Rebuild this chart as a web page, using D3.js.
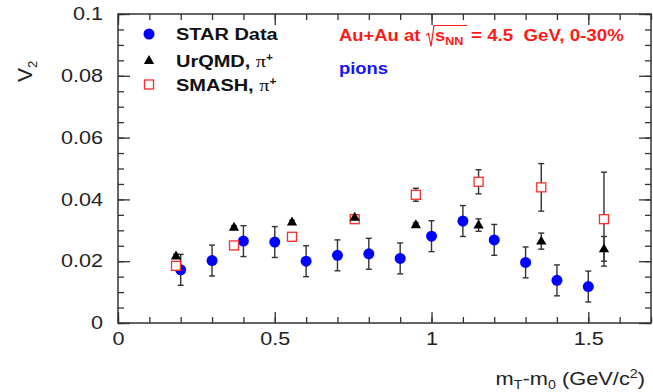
<!DOCTYPE html>
<html>
<head>
<meta charset="utf-8">
<script src="https://cdn.jsdelivr.net/npm/d3@7"></script>
<style>
  body { margin: 0; background: #fff; }
  svg { display: block; font-family: "Liberation Sans", Arial, Helvetica, sans-serif; }
</style>
</head>
<body>
<div id="chart"></div>
<script>
// STAR measured points (pions)
const starX = [0.2, 0.3, 0.4, 0.5, 0.6, 0.7, 0.8, 0.9, 1.0, 1.1, 1.2, 1.3, 1.4, 1.5];
const starY = [0.0172, 0.0202, 0.0265, 0.0262, 0.0200, 0.0219, 0.0224, 0.0209, 0.0281, 0.0330, 0.0269, 0.0196, 0.0138, 0.0118];
const starErr = [0.005, 0.005, 0.005, 0.005, 0.005, 0.005, 0.005, 0.005, 0.005, 0.005, 0.005, 0.005, 0.005, 0.005];

// model curves, same x for both
const modelX = [0.185, 0.37, 0.555, 0.755, 0.95, 1.15, 1.35, 1.55];
const urqmdY = [0.0217, 0.0310, 0.0327, 0.0342, 0.0318, 0.0317, 0.0265, 0.0240];
const urqmdErr = [0.0005, 0.0005, 0.0005, 0.0005, 0.0006, 0.0020, 0.0026, 0.0040];
const smashY = [0.0185, 0.0251, 0.0279, 0.0336, 0.0415, 0.0457, 0.0439, 0.0336];
const smashErr = [0.0008, 0.0006, 0.0006, 0.0008, 0.0021, 0.0039, 0.0077, 0.0152];

const xMajor = [0, 0.5, 1, 1.5];
const yMajor = [0, 0.02, 0.04, 0.06, 0.08, 0.1];

const W = 653, H = 392;
const margin = {top: 14, right: 2, bottom: 69, left: 118};

const svg = d3.select('#chart').append('svg')
  .attr('width', W).attr('height', H);

const x = d3.scaleLinear().domain([0, 1.7]).range([margin.left, W - margin.right]);
const y = d3.scaleLinear().domain([0, 0.1]).range([H - margin.bottom, margin.top]);

const axisCol = '#333';
const xMinor = d3.range(0, 1.701, 0.1);
const yMinor = d3.range(0, 0.1001, 0.005);

// stretch text a bit wider, the source image is horizontally stretched
function stretch(sel, k) {
  sel.each(function() {
    const L = this.getComputedTextLength();
    this.setAttribute('textLength', L * k);
    this.setAttribute('lengthAdjust', 'spacingAndGlyphs');
  });
}

function styleAxis(g) {
  g.select('.domain').remove();
  g.selectAll('line').attr('stroke', axisCol).attr('stroke-width', 1.3);
}

// bottom axis
svg.append('g').attr('transform', `translate(0,${y(0)})`)
  .call(d3.axisBottom(x).tickValues(xMinor).tickSize(-6).tickFormat(''))
  .call(styleAxis);
const gx = svg.append('g').attr('transform', `translate(0,${y(0)})`)
  .call(d3.axisBottom(x).tickValues(xMajor).tickSize(-11).tickPadding(9).tickFormat(d3.format('')))
  .call(styleAxis);
gx.selectAll('text').attr('font-size', 18).attr('fill', '#222');

// top axis (mirror)
svg.append('g').attr('transform', `translate(0,${y(0.1)})`)
  .call(d3.axisTop(x).tickValues(xMinor).tickSize(-6).tickFormat(''))
  .call(styleAxis);
svg.append('g').attr('transform', `translate(0,${y(0.1)})`)
  .call(d3.axisTop(x).tickValues(xMajor).tickSize(-11).tickFormat(''))
  .call(styleAxis);

// left axis
svg.append('g').attr('transform', `translate(${x(0)},0)`)
  .call(d3.axisLeft(y).tickValues(yMinor).tickSize(-6).tickFormat(''))
  .call(styleAxis);
const gy = svg.append('g').attr('transform', `translate(${x(0)},0)`)
  .call(d3.axisLeft(y).tickValues(yMajor).tickSize(-12).tickPadding(15).tickFormat(d3.format('')))
  .call(styleAxis);
gy.selectAll('text').attr('font-size', 18).attr('fill', '#222');

// right axis (mirror)
svg.append('g').attr('transform', `translate(${x(1.7)},0)`)
  .call(d3.axisRight(y).tickValues(yMinor).tickSize(-6).tickFormat(''))
  .call(styleAxis);
svg.append('g').attr('transform', `translate(${x(1.7)},0)`)
  .call(d3.axisRight(y).tickValues(yMajor).tickSize(-12).tickFormat(''))
  .call(styleAxis);

// frame
svg.append('rect')
  .attr('x', x(0)).attr('y', y(0.1))
  .attr('width', x(1.7) - x(0)).attr('height', y(0) - y(0.1))
  .attr('fill', 'none').attr('stroke', axisCol).attr('stroke-width', 1.5);

stretch(gx.selectAll('text'), 1.2);
stretch(gy.selectAll('text'), 1.2);

// error bars
function errorBars(xs, ys, es) {
  const g = svg.append('g').attr('stroke', '#333').attr('stroke-width', 1.4);
  xs.forEach((xv, i) => {
    const lo = y(ys[i] - es[i]), hi = y(ys[i] + es[i]), cx = x(xv);
    g.append('line').attr('x1', cx).attr('x2', cx).attr('y1', lo).attr('y2', hi);
    g.append('line').attr('x1', cx - 3).attr('x2', cx + 3).attr('y1', lo).attr('y2', lo);
    g.append('line').attr('x1', cx - 3).attr('x2', cx + 3).attr('y1', hi).attr('y2', hi);
  });
}

errorBars(starX, starY, starErr);
errorBars(modelX, smashY, smashErr);
errorBars(modelX, urqmdY, urqmdErr);

const tri = d3.symbol(d3.symbolTriangle, 46);

// STAR
svg.append('g').selectAll('circle').data(starX).join('circle')
  .attr('cx', d => x(d)).attr('cy', (d, i) => y(starY[i]))
  .attr('r', 5.5).attr('fill', '#0000ff');

// SMASH
svg.append('g').selectAll('rect').data(modelX).join('rect')
  .attr('x', d => x(d) - 4.5).attr('y', (d, i) => y(smashY[i]) - 4.5)
  .attr('width', 9).attr('height', 9)
  .attr('fill', '#fff').attr('stroke', '#ff2a2a').attr('stroke-width', 1.3);

// UrQMD
svg.append('g').selectAll('path').data(modelX).join('path')
  .attr('d', tri)
  .attr('transform', (d, i) => `translate(${x(d)},${y(urqmdY[i]) + 0.5})`)
  .attr('fill', '#000');

// legend
const leg = svg.append('g');
leg.append('circle').attr('cx', 149).attr('cy', 34).attr('r', 5.5).attr('fill', '#0000ff');
leg.append('path').attr('d', tri).attr('transform', 'translate(149,61)').attr('fill', '#000');
leg.append('rect').attr('x', 144.5).attr('y', 80).attr('width', 9).attr('height', 9)
  .attr('fill', '#fff').attr('stroke', '#ff2a2a').attr('stroke-width', 1.3);

const legLabels = ['STAR Data', 'UrQMD, ', 'SMASH, '];
const legY = [40, 67, 91];
legLabels.forEach((lab, i) => {
  const t = leg.append('text').attr('x', 176).attr('y', legY[i])
    .attr('font-size', 16.8).attr('font-weight', 'bold').attr('fill', '#111');
  t.append('tspan').text(lab);
  if (i > 0) {
    t.append('tspan').attr('font-weight', 'normal').attr('font-family', '"Liberation Serif", serif').attr('font-size', 17).text('π');
    t.append('tspan').attr('font-size', 10).attr('dy', -6).text('+');
  }
  stretch(t, 1.19);
});

// annotation
const red = '#ff1a1a';
const a1 = svg.append('text').attr('x', 339).attr('y', 41)
  .attr('font-size', 16).attr('font-weight', 'bold').attr('fill', red).text('Au+Au at');
stretch(a1, 1.15);
svg.append('path')
  .attr('d', 'M426,35 L428.5,33.5 L431,46.5 L434,25.5 L467,25.5')
  .attr('fill', 'none').attr('stroke', red).attr('stroke-width', 1.2);
const a2 = svg.append('text').attr('x', 435).attr('y', 41)
  .attr('font-size', 16).attr('font-weight', 'bold').attr('fill', red);
a2.append('tspan').text('s');
a2.append('tspan').attr('font-size', 11).attr('dy', 4).text('NN');
stretch(a2, 1.15);
const a3 = svg.append('text').attr('x', 471).attr('y', 41)
  .attr('font-size', 16).attr('font-weight', 'bold').attr('fill', red)
  .text('= 4.5  GeV, 0-30%');
a3.attr('xml:space', 'preserve');
stretch(a3, 1.17);

const pions = svg.append('text').attr('x', 339).attr('y', 74)
  .attr('font-size', 16).attr('font-weight', 'bold').attr('fill', '#1414ff').text('pions');
stretch(pions, 1.15);

// axis titles
const xt = svg.append('text').attr('x', 645).attr('y', 385).attr('text-anchor', 'end')
  .attr('font-size', 18.5).attr('fill', '#222');
xt.append('tspan').text('m');
xt.append('tspan').attr('font-size', 12).attr('dy', 4).text('T');
xt.append('tspan').attr('dy', -4).text('-m');
xt.append('tspan').attr('font-size', 12).attr('dy', 4).text('0');
xt.append('tspan').attr('dy', -4).text(' (GeV/c');
xt.append('tspan').attr('font-size', 12).attr('dy', -7).text('2');
xt.append('tspan').attr('dy', 7).text(')');
stretch(xt, 1.18);

const yt = svg.append('text').attr('transform', 'translate(32,82) rotate(-90)')
  .attr('font-size', 21).attr('fill', '#222');
yt.append('tspan').text('V');
yt.append('tspan').attr('font-size', 13).attr('dy', 5).text('2');
</script>
</body>
</html>
